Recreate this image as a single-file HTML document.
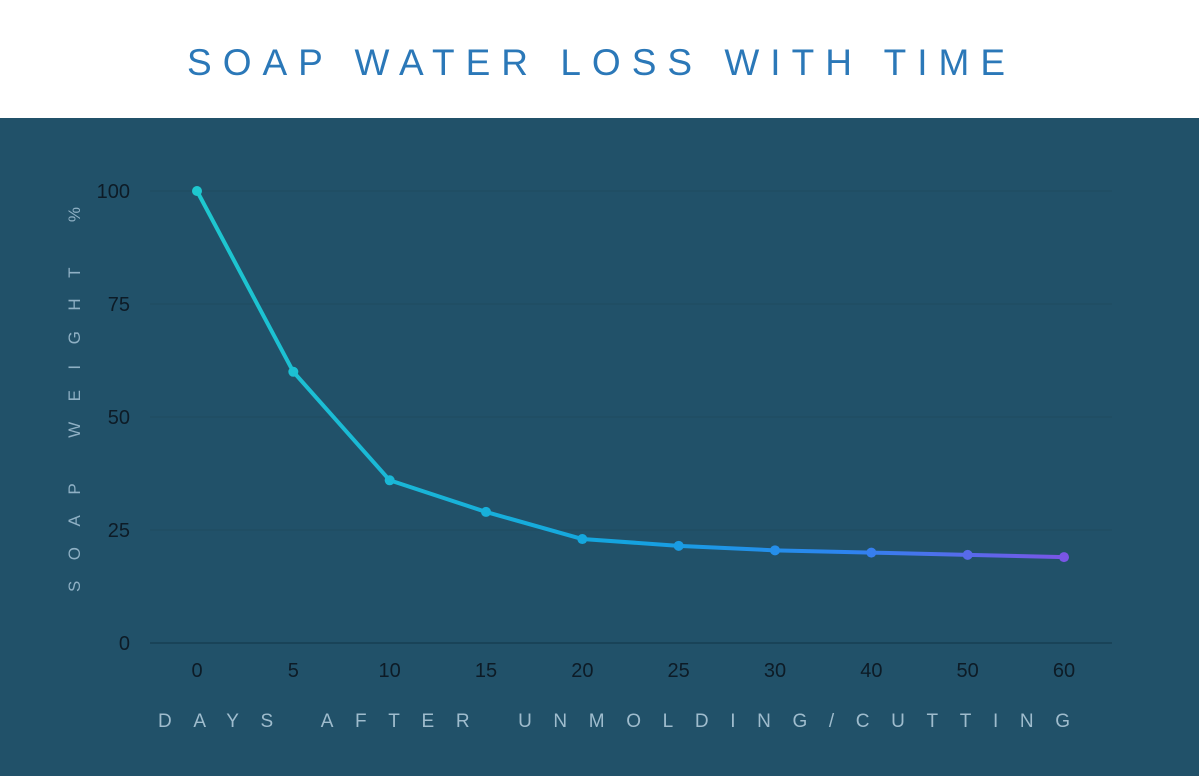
<!DOCTYPE html>
<html><head><meta charset="utf-8"><style>
body{margin:0;width:1199px;height:776px;overflow:hidden;background:#fff;font-family:"Liberation Sans",sans-serif}
</style></head><body>
<svg width="1199" height="776" xmlns="http://www.w3.org/2000/svg">
<defs><linearGradient id="lg" gradientUnits="userSpaceOnUse" x1="197" y1="0" x2="1064" y2="0">
<stop offset="0" stop-color="#1ec8cf"/><stop offset="0.5" stop-color="#14a3e0"/><stop offset="0.75" stop-color="#2d84f0"/><stop offset="1" stop-color="#7a55e6"/></linearGradient></defs>
<rect x="0" y="0" width="1199" height="118" fill="#fff"/>
<text x="187" y="75" textLength="818" lengthAdjust="spacing" font-size="37" fill="#2b78b8">SOAP WATER LOSS WITH TIME</text>
<rect x="0" y="118" width="1199" height="658" fill="#215169"/>
<g id="grid"></g><g id="yt"></g><g id="xt"></g>
<text x="158" y="727" textLength="912" lengthAdjust="spacing" font-size="19" fill="#9fbccd">DAYS AFTER UNMOLDING/CUTTING</text>
<text transform="translate(80,592) rotate(-90)" x="0" y="0" textLength="385" lengthAdjust="spacing" font-size="17" fill="#8fb0c4">SOAP WEIGHT %</text>
<g id="series"></g>
</svg>
<script>
const categories=["0","5","10","15","20","25","30","40","50","60"];
const values=[100,60,36,29,23,21.5,20.5,20,19.5,19];
const yTicks=[0,25,50,75,100];
const NS="http://www.w3.org/2000/svg";
const y=v=>643-v*4.52;
const x=i=>197+i*(1064-197)/(categories.length-1);
function mk(t,a,p){const e=document.createElementNS(NS,t);for(const k in a)e.setAttribute(k,a[k]);p.appendChild(e);return e;}
const g=document.getElementById('grid'),yt=document.getElementById('yt'),xt=document.getElementById('xt'),s=document.getElementById('series');
yTicks.forEach(v=>{
 const l=mk('line',{x1:150,x2:1112,y1:y(v),y2:y(v),stroke:v===0?'#173f52':'#1e4a60','stroke-width':v===0?1.5:1},g);
 
 
 const t=mk('text',{x:130,y:y(v)+7,'text-anchor':'end','font-size':20,fill:'#0d1b26'},yt);t.textContent=v;
 
 
});
categories.forEach((c,i)=>{
 const t=mk('text',{x:x(i),y:677,'text-anchor':'middle','font-size':20,fill:'#0d1b26'},xt);t.textContent=c;
 
 
});
const pl=mk('polyline',{points:values.map((v,i)=>x(i)+','+y(v)).join(' '),fill:'none',stroke:'url(#lg)','stroke-width':4,'stroke-linejoin':'round'},s);


values.forEach((v,i)=>{
 const c=mk('circle',{cx:x(i),cy:y(v),r:5,fill:'url(#lg)'},s);
 
 
});
</script>
</body></html>
